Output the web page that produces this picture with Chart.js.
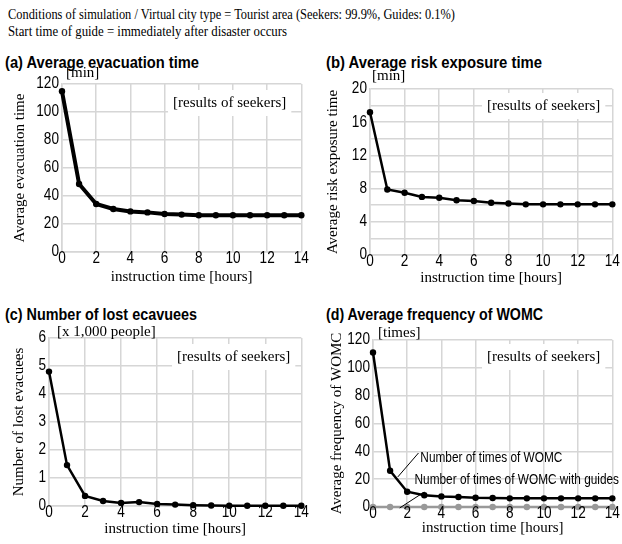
<!DOCTYPE html>
<html>
<head>
<meta charset="utf-8">
<script src="https://cdn.jsdelivr.net/npm/chart.js@4"></script>
<style>
  body { margin: 0; background: #fff; width: 622px; height: 544px; position: relative; overflow: hidden; }
  .txt { position: absolute; white-space: nowrap; transform-origin: 0 50%; color: #000; }
  .hdr { font-family: "Liberation Serif", "Times New Roman", serif; font-size: 15px; line-height: 18px; }
  .ttl { font-family: "Liberation Sans", Arial, sans-serif; font-weight: bold; font-size: 16px; line-height: 18px; }
  canvas { position: absolute; }
</style>
</head>
<body>
<div class="txt hdr" style="left:8px;top:5px" data-w="447">Conditions of simulation / Virtual city type = Tourist area (Seekers: 99.9%, Guides: 0.1%)</div>
<div class="txt hdr" style="left:8px;top:22px" data-w="279">Start time of guide = immediately after disaster occurs</div>
<div class="txt ttl" style="left:5px;top:54px" data-w="194">(a) Average evacuation time</div>
<div class="txt ttl" style="left:326px;top:54px" data-w="216">(b) Average risk exposure time</div>
<div class="txt ttl" style="left:5px;top:306px" data-w="192">(c) Number of lost ecavuees</div>
<div class="txt ttl" style="left:326px;top:306px" data-w="217">(d) Average frequency of WOMC</div>

<canvas id="ca" width="311" height="250" style="left:0;top:40px"></canvas>
<canvas id="cb" width="311" height="250" style="left:311px;top:40px"></canvas>
<canvas id="cc" width="311" height="250" style="left:0;top:294px"></canvas>
<canvas id="cd" width="311" height="250" style="left:311px;top:294px"></canvas>

<script>
// instruction time [hours]
const hours = [0, 1, 2, 3, 4, 5, 6, 7, 8, 9, 10, 11, 12, 13, 14];

// (a) average evacuation time [min]
const evacTime = [114.8, 48.6, 34.3, 30.7, 29.0, 28.3, 27.1, 26.7, 26.2, 26.2, 26.2, 26.2, 26.2, 26.2, 26.2];
// (b) average risk exposure time [min]
const riskTime = [17.2, 7.9, 7.5, 7.0, 6.9, 6.6, 6.5, 6.3, 6.2, 6.1, 6.1, 6.1, 6.1, 6.1, 6.1];
// (c) number of lost evacuees [x 1,000 people]
const lostEvacuees = [4.8, 1.46, 0.36, 0.18, 0.11, 0.14, 0.07, 0.05, 0.03, 0.02, 0.01, 0.01, 0.01, 0.01, 0.01];
// (d) average frequency of WOMC [times]
const womc = [111, 26, 11, 8.4, 7.6, 7.2, 6.7, 6.5, 6.2, 6.2, 6.2, 6.2, 6.2, 6.2, 6.2];
const womcGuides = [0, 0, 0, 0, 0, 0, 0, 0, 0, 0, 0, 0, 0, 0, 0];

const resultsLabel = "[results of seekers]";

// squeeze html texts to the widths of the picture
document.querySelectorAll(".txt").forEach(el => {
    const w = +el.dataset.w;
    const real = el.getBoundingClientRect().width;
    el.style.transform = `scaleX(${w / real})`;
});

const SERIF = '"Liberation Serif", "Times New Roman", serif';
const SANS = '"Liberation Sans", Arial, sans-serif';
const GRID = "#d6d6d6";
const CLEAR = "rgba(0,0,0,0)";

// draw text squeezed sideways (the figure uses narrow fonts)
function narrowText(ctx, text, x, y, sx, align) {
    ctx.save();
    ctx.translate(x, y);
    ctx.scale(sx, 1);
    ctx.textAlign = align;
    ctx.fillText(text, 0, 0);
    ctx.restore();
}

const annotPlugin = {
    id: "annot",
    afterDraw(chart, args, o) {
        const { ctx, chartArea: a, scales } = chart;
        const x = scales.x, y = scales.y;
        ctx.save();
        ctx.fillStyle = "#000";
        ctx.textBaseline = "middle";

        // tick labels from the scales, in a narrow face
        ctx.font = "16px " + SANS;
        x.ticks.forEach(t => {
            narrowText(ctx, String(t.value), x.getPixelForValue(t.value), a.bottom + 7, 0.85, "center");
        });
        y.ticks.forEach(t => {
            if (t.value % o.yLabelEvery !== 0) return;
            narrowText(ctx, String(t.value), a.left - 3, y.getPixelForValue(t.value), 0.85, "right");
        });

        // unit label above axis
        ctx.font = "15px " + SERIF;
        ctx.textAlign = "left";
        ctx.fillText(o.unit, a.left + o.unitDx, a.top + o.unitDy);

        // results box
        const tw = ctx.measureText(resultsLabel).width;
        const tx = a.right - o.boxDx - tw;
        const ty = a.top + o.boxDy;
        ctx.fillStyle = "#fff";
        ctx.fillRect(tx - 5, ty - 13, tw + 10, 26);
        ctx.fillStyle = "#000";
        ctx.fillText(resultsLabel, tx, ty);

        // callouts
        ctx.font = "14px " + SANS;
        (o.callouts || []).forEach(c => {
            ctx.strokeStyle = "#000";
            ctx.lineWidth = 1;
            ctx.beginPath();
            ctx.moveTo(x.getPixelForValue(c.from[0]), y.getPixelForValue(c.from[1]));
            ctx.lineTo(x.getPixelForValue(c.to[0]), y.getPixelForValue(c.to[1]));
            ctx.stroke();
            narrowText(ctx, c.text, x.getPixelForValue(c.at[0]), y.getPixelForValue(c.at[1]), 0.845, "left");
        });
        ctx.restore();
    }
};

function series(values, color, width) {
    return {
        data: hours.map((h, i) => ({ x: h, y: values[i] })),
        borderColor: color,
        backgroundColor: color,
        borderWidth: width,
        pointRadius: 3.2,
        pointBorderWidth: 0,
        tension: 0,
        clip: false
    };
}

function makeChart(id, g) {
    new Chart(document.getElementById(id), {
        type: "line",
        data: { datasets: g.datasets },
        options: {
            responsive: false,
            animation: false,
            layout: { padding: { left: 0, right: g.padRight, top: g.padTop, bottom: 0 } },
            plugins: { legend: { display: false }, tooltip: { enabled: false }, annot: g.annot },
            scales: {
                x: {
                    type: "linear", min: 0, max: 14,
                    ticks: { stepSize: 2, color: CLEAR, autoSkip: false },
                    grid: { color: GRID, lineWidth: 1.5, drawTicks: false },
                    border: { color: GRID, width: 1.5 },
                    title: { display: true, text: "instruction time [hours]", color: "#000",
                             font: { family: SERIF, size: 15 }, padding: { top: 0, bottom: g.xTitlePad } },
                    afterFit: s => { s.height = g.xHeight; }
                },
                y: {
                    min: 0, max: g.yMax,
                    ticks: { stepSize: g.yStep, color: CLEAR, autoSkip: false },
                    grid: { color: GRID, lineWidth: 1.5, drawTicks: false },
                    border: { color: GRID, width: 1.5 },
                    title: { display: true, text: g.yTitle, color: "#000",
                             font: { family: SERIF, size: 15 }, padding: { top: g.yTitlePad, bottom: 0 } },
                    afterFit: s => { s.width = g.yWidth; }
                }
            }
        },
        plugins: [annotPlugin]
    });
}

makeChart("ca", {
    datasets: [series(evacTime, "#000", 4)],
    padRight: 6, padTop: 44, xHeight: 38, yWidth: 62, xTitlePad: 4, yTitlePad: 11,
    yMax: 120, yStep: 20, yTitle: "Average evacuation time",
    annot: { yLabelEvery: 20, unit: "[min]", unitDx: 4, unitDy: -11, boxDx: 15, boxDy: 19 }
});

makeChart("cb", {
    datasets: [series(riskTime, "#000", 2.5)],
    padRight: 7, padTop: 49, xHeight: 35, yWidth: 59, xTitlePad: 3, yTitlePad: 13,
    yMax: 20, yStep: 2, yTitle: "Average risk exposure time",
    annot: { yLabelEvery: 4, unit: "[min]", unitDx: 2, unitDy: -13, boxDx: 12, boxDy: 17 }
});

makeChart("cc", {
    datasets: [series(lostEvacuees, "#000", 2.5)],
    padRight: 7, padTop: 44, xHeight: 38, yWidth: 49, xTitlePad: 6, yTitlePad: 10,
    yMax: 6, yStep: 1, yTitle: "Number of lost evacuees",
    annot: { yLabelEvery: 1, unit: "[x 1,000 people]", unitDx: 8, unitDy: -6, boxDx: 11, boxDy: 19 }
});

makeChart("cd", {
    datasets: [series(womcGuides, "#999", 2.5), series(womc, "#000", 2.5)],
    padRight: 7, padTop: 46, xHeight: 37, yWidth: 62, xTitlePad: 7, yTitlePad: 17,
    yMax: 120, yStep: 20, yTitle: "Average frequency of WOMC",
    annot: {
        yLabelEvery: 20, unit: "[times]", unitDx: 5, unitDy: -7, boxDx: 12, boxDy: 17,
        callouts: [
            { text: "Number of times of WOMC", from: [1.45, 21.6], to: [2.66, 38.8], at: [2.77, 35] },
            { text: "Number of times of WOMC with guides", from: [1.56, -0.7], to: [3.0, 10.8], at: [2.43, 19.4] }
        ]
    }
});
</script>
</body>
</html>
